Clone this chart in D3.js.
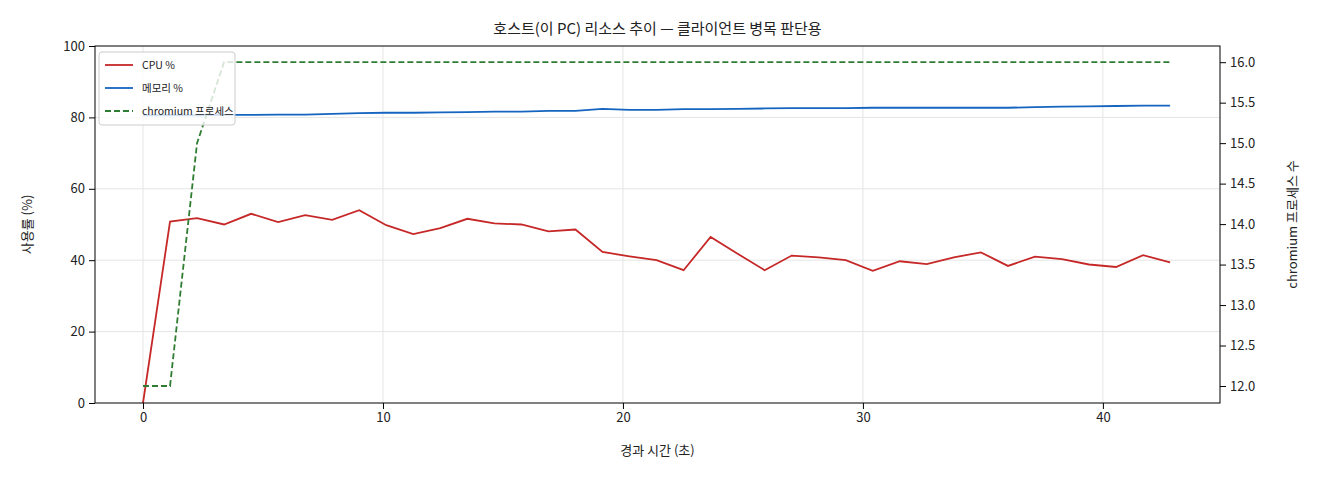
<!DOCTYPE html>
<html><head><meta charset="utf-8">
<script src="https://cdn.jsdelivr.net/npm/d3@7"></script>
<style>body{margin:0;background:#fff}text{font-family:"Noto Sans CJK KR","DejaVu Sans",sans-serif}</style>
</head><body><svg id="c" width="1320" height="480"></svg>
<script>
const cpu=[0,50.8,51.8,50.0,53.0,50.7,52.6,51.3,54.0,49.8,47.3,49.0,51.6,50.3,50.0,48.1,48.6,42.3,41.1,40.0,37.2,46.5,41.8,37.2,41.3,40.8,40.0,37.0,39.7,38.9,40.8,42.2,38.4,41.0,40.3,38.8,38.1,41.4,39.4];
const mem=[80.6,80.6,80.6,80.7,80.7,80.8,80.8,81.0,81.2,81.3,81.3,81.4,81.5,81.6,81.6,81.8,81.8,82.4,82.1,82.1,82.3,82.3,82.4,82.5,82.6,82.6,82.6,82.7,82.7,82.7,82.7,82.7,82.7,82.9,83.0,83.1,83.2,83.3,83.3];
const chrom=[12,12,15,16,16,16,16,16,16,16,16,16,16,16,16,16,16,16,16,16,16,16,16,16,16,16,16,16,16,16,16,16,16,16,16,16,16,16,16];
const times=cpu.map((d,i)=>i*42.8/38);
const svg=d3.select("#c");
const L=95,R=1220,T=46,B=403;
const x=d3.scaleLinear().domain([-2.0,44.88]).range([L,R]);
const y=d3.scaleLinear().domain([0,100]).range([B,T]);
const y2=d3.scaleLinear().domain([11.79,16.2]).range([B,T]);
const g=svg.append("g");
[0,10,20,30,40].forEach(t=>g.append("line").attr("x1",x(t)).attr("x2",x(t)).attr("y1",T).attr("y2",B).attr("stroke","#e5e5e5"));
[20,40,60,80].forEach(t=>g.append("line").attr("x1",L).attr("x2",R).attr("y1",y(t)).attr("y2",y(t)).attr("stroke","#e5e5e5"));
const line=(ys,sc)=>d3.line().x((d,i)=>x(times[i])).y(d=>sc(d))(ys);
svg.append("path").attr("d",line(cpu,y)).attr("fill","none").attr("stroke","#c62828").attr("stroke-width",1.8);
svg.append("path").attr("d",line(mem,y)).attr("fill","none").attr("stroke","#1565c0").attr("stroke-width",1.8);
svg.append("path").attr("d",line(chrom,y2)).attr("fill","none").attr("stroke","#2e7d32").attr("stroke-width",1.8).attr("stroke-dasharray","6,3");
svg.append("rect").attr("x",L).attr("y",T).attr("width",R-L).attr("height",B-T).attr("fill","none").attr("stroke","#000").attr("stroke-width",1);
const ax=svg.append("g").attr("transform",`translate(0,${B})`).call(d3.axisBottom(x).tickValues([0,10,20,30,40]).tickSizeOuter(0).tickPadding(4));
const ay=svg.append("g").attr("transform",`translate(${L},0)`).call(d3.axisLeft(y).tickValues([0,20,40,60,80,100]).tickSizeOuter(0).tickPadding(4));
const ay2=svg.append("g").attr("transform",`translate(${R},0)`).call(d3.axisRight(y2).tickValues([12,12.5,13,13.5,14,14.5,15,15.5,16]).tickFormat(d3.format(".1f")).tickSizeOuter(0).tickPadding(4));
[ax,ay,ay2].forEach(a=>{a.select(".domain").remove();a.selectAll("text").attr("font-size",13).attr("fill","#222");a.selectAll("line").attr("stroke","#000");});
svg.append("text").attr("x",(L+R)/2).attr("y",34).attr("text-anchor","middle").attr("font-size",15).attr("fill","#222").text("호스트(이 PC) 리소스 추이 — 클라이언트 병목 판단용");
svg.append("text").attr("x",(L+R)/2).attr("y",455).attr("text-anchor","middle").attr("font-size",13).attr("fill","#222").text("경과 시간 (초)");
svg.append("text").attr("transform",`translate(32,${(T+B)/2}) rotate(-90)`).attr("text-anchor","middle").attr("font-size",13).attr("fill","#222").text("사용률 (%)");
svg.append("text").attr("transform",`translate(1297,${(T+B)/2}) rotate(-90)`).attr("text-anchor","middle").attr("font-size",13).attr("fill","#222").text("chromium 프로세스 수");
const lg=svg.append("g").attr("transform","translate(99,52)");
lg.append("rect").attr("width",136).attr("height",73).attr("rx",3).attr("fill","rgba(255,255,255,0.8)").attr("stroke","#ccc");
const items=[["CPU %","#c62828",null],["메모리 %","#1565c0",null],["chromium 프로세스","#2e7d32","6,3"]];
items.forEach((it,i)=>{const yy=13+i*23;
lg.append("line").attr("x1",6).attr("x2",34).attr("y1",yy).attr("y2",yy).attr("stroke",it[1]).attr("stroke-width",1.8).attr("stroke-dasharray",it[2]);
lg.append("text").attr("x",43).attr("y",yy+4).attr("font-size",10.5).attr("fill","#222").text(it[0]);});
</script></body></html>
